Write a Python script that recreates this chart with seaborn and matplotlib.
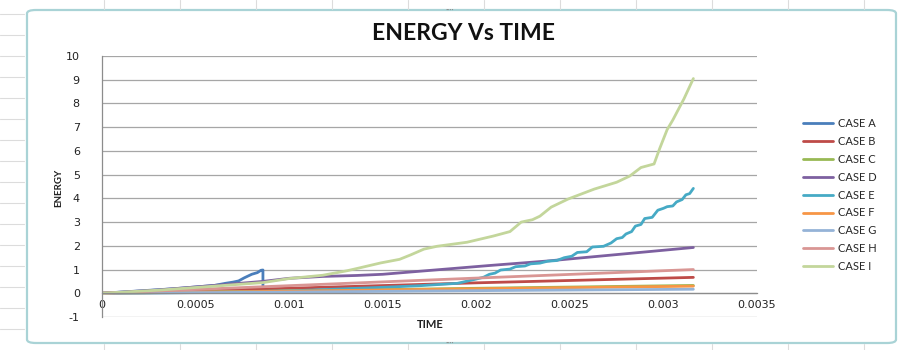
import matplotlib
matplotlib.use("Agg")
import matplotlib.pyplot as plt
from matplotlib.patches import FancyBboxPatch
from matplotlib.lines import Line2D
import pandas as pd
import seaborn as sns

# ---- data -------------------------------------------------------------
cases = ["CASE A", "CASE B", "CASE C", "CASE D", "CASE E",
         "CASE F", "CASE G", "CASE H", "CASE I"]

a_time = [0, 0.0002, 0.0004, 0.0006, 0.00066, 0.0007, 0.00073, 0.00076,
          0.0008, 0.00083, 0.00085, 0.00086, 0.00086]
a_energy = [0, 0.1, 0.2, 0.33, 0.42, 0.47, 0.52, 0.65, 0.8, 0.87, 0.97, 0.98, 0.3]

b_time = [0, 0.001, 0.002, 0.00316]
b_energy = [0, 0.21, 0.44, 0.67]

c_time = [0, 0.001, 0.002, 0.00316]
c_energy = [0, 0.1, 0.21, 0.33]

d_time = [0, 0.0003, 0.0006, 0.00086, 0.001, 0.00118, 0.00136, 0.0015,
          0.00207, 0.00238, 0.00316]
d_energy = [0, 0.14, 0.33, 0.5, 0.63, 0.71, 0.75, 0.8, 1.17, 1.36, 1.93]

e_time = [0, 0.0005, 0.001, 0.0015, 0.0017, 0.0019, 0.002, 0.00204, 0.00207,
          0.0021, 0.00213, 0.00218, 0.00221, 0.00226, 0.00229, 0.00234, 0.00238,
          0.00243, 0.00247, 0.00251, 0.00254, 0.00259, 0.00262, 0.00268, 0.00272,
          0.00275, 0.00278, 0.0028, 0.00283, 0.00285, 0.00288, 0.0029, 0.00294,
          0.00297, 0.003, 0.00302, 0.00305, 0.00307, 0.0031, 0.00312, 0.00314,
          0.00316]
e_energy = [0, 0.03, 0.1, 0.25, 0.32, 0.42, 0.6, 0.68, 0.8, 0.85, 0.98, 1.02,
            1.12, 1.15, 1.24, 1.27, 1.35, 1.38, 1.5, 1.56, 1.72, 1.75, 1.95, 1.98,
            2.12, 2.3, 2.35, 2.5, 2.6, 2.83, 2.9, 3.15, 3.2, 3.5, 3.58, 3.65, 3.68,
            3.85, 3.95, 4.15, 4.2, 4.42]

f_time = [0, 0.001, 0.002, 0.00316]
f_energy = [0, 0.09, 0.19, 0.3]

g_time = [0, 0.001, 0.002, 0.00316]
g_energy = [0, 0.05, 0.11, 0.17]

h_time = [0, 0.001, 0.002, 0.00316]
h_energy = [0, 0.32, 0.64, 1.0]

i_time = [0, 0.0003, 0.0006, 0.00086, 0.001, 0.00118, 0.00131, 0.00136, 0.00149,
          0.00159, 0.00165, 0.00172, 0.00179, 0.00195, 0.00209, 0.00218, 0.00224,
          0.0023, 0.00234, 0.0024, 0.00249, 0.00256, 0.00263, 0.00275, 0.00282,
          0.00288, 0.00295, 0.00298, 0.00302, 0.00305, 0.00311, 0.00316]
i_energy = [0, 0.13, 0.3, 0.45, 0.62, 0.76, 0.95, 1.04, 1.28, 1.43, 1.62, 1.86,
            1.98, 2.15, 2.41, 2.6, 3.0, 3.1, 3.25, 3.63, 3.97, 4.18, 4.39, 4.68,
            4.94, 5.3, 5.45, 6.1, 6.9, 7.3, 8.2, 9.05]

x_ticks = [0, 0.0005, 0.001, 0.0015, 0.002, 0.0025, 0.003, 0.0035]
x_tick_labels = ["0", "0.0005", "0.001", "0.0015", "0.002", "0.0025", "0.003", "0.0035"]
y_ticks = list(range(-1, 11))

colors = ["#4A7EBB", "#BE4B48", "#98B954", "#7D60A0", "#46AAC5",
          "#F79646", "#95B3D7", "#D99694", "#C3D69B"]

series = [(a_time, a_energy), (b_time, b_energy), (c_time, c_energy),
          (d_time, d_energy), (e_time, e_energy), (f_time, f_energy),
          (g_time, g_energy), (h_time, h_energy), (i_time, i_energy)]

df = pd.concat(
    [pd.DataFrame({"time": t, "energy": e, "case": name})
     for name, (t, e) in zip(cases, series)],
    ignore_index=True,
)

# ---- figure -----------------------------------------------------------
sns.set_theme(style="white")
plt.rcParams["font.family"] = ["Lato", "DejaVu Sans"]

W, H = 901, 350
fig = plt.figure(figsize=(W / 100, H / 100), dpi=100)
fig.patch.set_facecolor("white")

# worksheet cell lines around the chart object
for yy in range(14, H, 21):
    fig.add_artist(Line2D([0, 24 / W], [1 - yy / H] * 2, color="#dcdcdc", lw=0.8))
for xx in range(104, W, 76):
    fig.add_artist(Line2D([xx / W] * 2, [1 - 0 / H, 1 - 9 / H], color="#dcdcdc", lw=0.8))
    fig.add_artist(Line2D([xx / W] * 2, [1 - 344 / H, 0], color="#dcdcdc", lw=0.8))

# chart object border
frame = FancyBboxPatch((27 / W, 1 - 343 / H), (896 - 27) / W, (343 - 10) / H,
                       boxstyle="round,pad=0,rounding_size=0.01",
                       transform=fig.transFigure, facecolor="white",
                       edgecolor="#a9d3d6", lw=1.6, zorder=0)
fig.add_artist(frame)
for yy in (10, 343):
    fig.text(450 / W, 1 - yy / H, "····", ha="center", va="center",
             fontsize=6, color="#8a8a8a")

ax = fig.add_axes([102 / W, 1 - 317 / H, (757 - 102) / W, (317 - 56) / H])
ax.set_facecolor("none")

sns.lineplot(data=df, x="time", y="energy", hue="case", hue_order=cases,
             palette=dict(zip(cases, colors)), estimator=None, sort=False,
             linewidth=2.0, ax=ax)

ax.set_xlim(0, 0.0035)
ax.set_ylim(-1, 10)
ax.set_xticks(x_ticks)
ax.set_xticklabels(x_tick_labels)
ax.set_yticks(y_ticks)
ax.set_yticklabels([str(v) for v in y_ticks])
ax.yaxis.grid(True, color="#a6a6a6", lw=0.9)
ax.xaxis.grid(False)
ax.set_axisbelow(True)

for side in ("top", "right"):
    ax.spines[side].set_visible(False)
ax.spines["left"].set_color("#8c8c8c")
ax.spines["left"].set_linewidth(0.9)
ax.spines["bottom"].set_position(("data", 0))
ax.spines["bottom"].set_color("#8c8c8c")
ax.spines["bottom"].set_linewidth(0.9)

ax.tick_params(axis="x", length=0, pad=5, labelsize=8, labelcolor="#222222")
ax.tick_params(axis="y", length=0, pad=16, labelsize=8, labelcolor="#222222")
for lbl in ax.get_xticklabels() + ax.get_yticklabels():
    lbl.set_fontfamily("DejaVu Sans")
ax.set_xlabel("")
ax.set_ylabel("")

fig.text(464 / W, 1 - 33 / H, "ENERGY Vs TIME", ha="center", va="center",
         fontsize=16.5, fontweight="bold", color="#111111")
fig.text(430 / W, 1 - 325 / H, "TIME", ha="center", va="center",
         fontsize=8, fontweight="bold", color="#222222")
fig.text(59 / W, 1 - 188 / H, "ENERGY", ha="center", va="center", rotation=90,
         fontsize=7, fontweight="bold", color="#222222")

handles, labels = ax.get_legend_handles_labels()
ax.legend(handles, labels, loc="upper left",
          bbox_to_anchor=(803 / W, 1 - 118 / H), bbox_transform=fig.transFigure,
          frameon=False, fontsize=8, handlelength=2.7, handletextpad=0.45,
          labelspacing=0.62, borderpad=0, borderaxespad=0)

fig.savefig("out.png", dpi=100)
